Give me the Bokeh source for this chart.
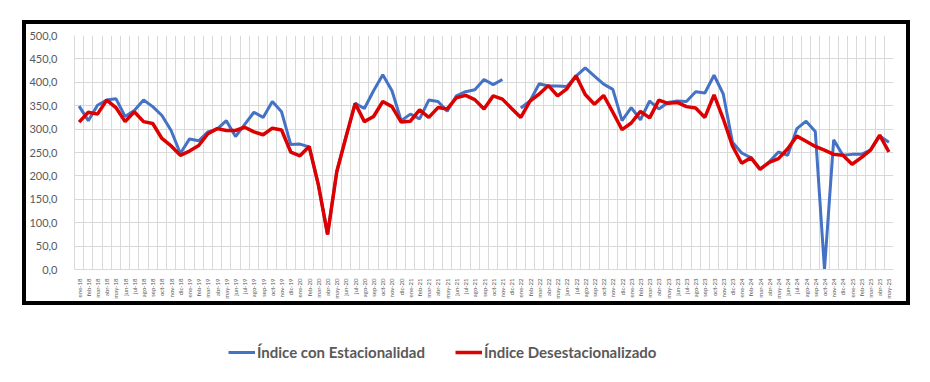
import math
from bokeh.plotting import figure
from bokeh.models import Range1d, FixedTicker, Legend, LegendItem, ColumnDataSource
from bokeh.layouts import column
from bokeh.embed import file_html
from bokeh.resources import INLINE

months = ["ene", "feb", "mar", "abr", "may", "jun", "jul", "ago", "sep", "oct", "nov", "dic"]
years = ["18", "19", "20", "21", "22", "23", "24", "25"]
x_labels = [f"{m}-{y}" for y in years for m in months][:89]

nan = float("nan")
con_estacionalidad = [
    349, 318, 351, 362, 365, 327, 340, 362, 348, 329, 297, 248,
    279, 275, 294, 300, 318, 284, 310, 336, 325, 359, 337, 267,
    268, 262, 181, 75, 209, 283, 355, 344, 382, 416, 382, 318,
    332, 322, 362, 359, 338, 371, 380, 384, 406, 395, 406, nan,
    345, 360, 397, 392, 392, 391, 413, 431, 413, 396, 385, 318,
    346, 320, 360, 343, 357, 360, 359, 380, 377, 415, 375, 272,
    249, 239, 215, 230, 251, 244, 301, 317, 295, 0, 277, 244,
    246, 246, 255, 285, 272,
]
desestacionalizado = [
    315, 336, 332, 362, 346, 316, 337, 316, 312, 280, 264, 244,
    253, 265, 290, 301, 297, 297, 304, 294, 288, 302, 298, 251,
    243, 263, 181, 75, 209, 283, 355, 316, 327, 359, 348, 315,
    317, 341, 325, 346, 343, 367, 372, 363, 343, 371, 364, 344,
    325, 360, 375, 393, 371, 386, 414, 374, 353, 372, 336, 299,
    313, 338, 324, 362, 355, 357, 348, 345, 325, 373, 322, 264,
    227, 239, 214, 229, 237, 258, 285, 274, 263, 255, 246, 244,
    225, 239, 255, 287, 251,
]
series_names = ["Índice con Estacionalidad", "Índice Desestacionalizado"]
y_ticks = [0, 50, 100, 150, 200, 250, 300, 350, 400, 450, 500]
y_tick_labels = ["0,0", "50,0", "100,0", "150,0", "200,0", "250,0", "300,0",
                 "350,0", "400,0", "450,0", "500,0"]

BLUE = "#4472C4"
RED = "#DD0000"
GRID = "#D9D9D9"
TEXT = "#595959"
FONT = "Lato"

idx = list(range(len(x_labels)))
src = ColumnDataSource(data=dict(x=idx, a=con_estacionalidad, b=desestacionalizado))

p = figure(width=880, height=277, x_range=Range1d(-0.5, len(x_labels) - 0.5),
           y_range=Range1d(0, 500), output_backend="svg", toolbar_location=None,
           min_border_left=45, min_border_right=13, min_border_top=11,
           min_border_bottom=29, outline_line_color=None)

p.line("x", "a", source=src, line_color=BLUE, line_width=3)
p.line("x", "b", source=src, line_color=RED, line_width=3.5)

p.xaxis.ticker = FixedTicker(ticks=idx)
p.xaxis.major_label_overrides = {i: lab for i, lab in zip(idx, x_labels)}
p.xaxis.major_label_orientation = math.pi / 2
p.xaxis.major_label_text_font_size = "6px"
p.xaxis.major_label_text_font = FONT
p.xaxis.major_label_text_color = TEXT
p.xaxis.major_label_standoff = 3
p.xaxis.major_tick_line_color = None
p.xaxis.minor_tick_line_color = None
p.xaxis.axis_line_color = GRID

p.yaxis.ticker = FixedTicker(ticks=y_ticks)
p.yaxis.major_label_overrides = {t: l for t, l in zip(y_ticks, y_tick_labels)}
p.yaxis.major_label_text_font_size = "11px"
p.yaxis.major_label_text_font = FONT
p.yaxis.major_label_text_color = TEXT
p.yaxis.major_label_standoff = 11
p.yaxis.major_tick_line_color = None
p.yaxis.minor_tick_line_color = None
p.yaxis.axis_line_color = GRID

p.xgrid.ticker = FixedTicker(ticks=[i - 0.5 for i in range(len(x_labels) + 1)])
p.xgrid.grid_line_color = GRID
p.ygrid.ticker = FixedTicker(ticks=y_ticks)
p.ygrid.grid_line_color = GRID

boxed = column(p, width=888, height=285, margin=(20, 0, 0, 22),
               styles={"border": "4px solid black", "box-sizing": "border-box"})

# Legend strip below the framed chart (data lie outside its visible range)
pl = figure(width=914, height=70, x_range=Range1d(-3, -2), y_range=Range1d(-3, -2),
            output_backend="svg", toolbar_location=None, min_border=0,
            outline_line_color=None, x_axis_location=None, y_axis_location=None)
pl.grid.visible = False
r1 = pl.line("x", "a", source=src, line_color=BLUE, line_width=3)
r2 = pl.line("x", "b", source=src, line_color=RED, line_width=3.5)
legend = Legend(items=[LegendItem(label=series_names[0], renderers=[r1]),
                       LegendItem(label=series_names[1], renderers=[r2])],
                orientation="horizontal", location=(228, 13),
                glyph_width=27, glyph_height=20, label_height=20, label_standoff=2,
                spacing=30, padding=0, margin=0, border_line_color=None,
                background_fill_alpha=0, label_text_font=FONT,
                label_text_font_style="bold", label_text_font_size="15px",
                label_text_color=TEXT)
pl.add_layout(legend, "center")

layout = column(boxed, pl)
open("out.html", "w").write(file_html(layout, INLINE))
